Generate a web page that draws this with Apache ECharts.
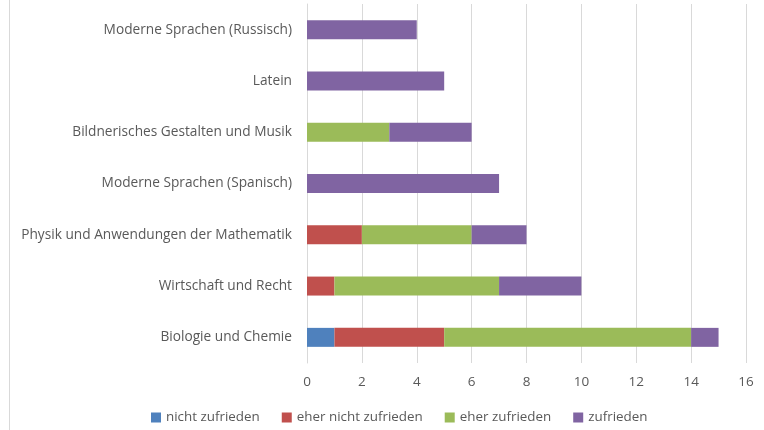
<!DOCTYPE html>
<html>
<head>
<meta charset="utf-8">
<script src="https://cdn.jsdelivr.net/npm/echarts@6/dist/echarts.min.js"></script>
<style>
html, body { margin: 0; padding: 0; background: #fff; }
#chart { width: 764px; height: 430px; }
</style>
</head>
<body>
<div id="chart"></div>
<script>
// Fächer, von unten nach oben
const faecher = ['Biologie und Chemie', 'Wirtschaft und Recht', 'Physik und Anwendungen der Mathematik',
	'Moderne Sprachen (Spanisch)', 'Bildnerisches Gestalten und Musik', 'Latein', 'Moderne Sprachen (Russisch)'];
const nichtZufrieden = [1, 0, 0, 0, 0, 0, 0];
const eherNichtZufrieden = [4, 1, 2, 0, 0, 0, 0];
const eherZufrieden = [9, 6, 4, 0, 3, 0, 0];
const zufrieden = [1, 3, 2, 7, 3, 5, 4];

const schrift = '"Open Sans", "Liberation Sans", sans-serif';
const grau = '#595959';

const myChart = echarts.init(document.getElementById('chart'));

function reihe(name, werte, farbe) {
	return {
		name: name,
		type: 'bar',
		stack: 'gesamt',
		barWidth: '37%',
		data: werte,
		itemStyle: { color: farbe },
		emphasis: { disabled: true }
	};
}

option = {
	backgroundColor: '#fff',
	animation: false,
	graphic: [{
		type: 'line',
		shape: { x1: 9.5, y1: 0, x2: 9.5, y2: 430 },
		style: { stroke: '#d9d9d9', lineWidth: 1 }
	}],
	grid: {
		left: 307,
		right: 18,
		top: 4,
		bottom: 67
	},
	legend: {
		bottom: 1,
		left: 146,
		itemWidth: 10,
		itemHeight: 10,
		itemGap: 22,
		itemTextGap: 3,
		icon: 'rect',
		textStyle: { color: grau, fontSize: 13.4, fontFamily: schrift },
		data: ['nicht zufrieden', 'eher nicht zufrieden', 'eher zufrieden', 'zufrieden']
	},
	xAxis: {
		type: 'value',
		min: 0,
		max: 16,
		interval: 2,
		axisLine: { show: false },
		axisTick: { show: false },
		axisLabel: { color: grau, fontSize: 13.5, fontFamily: schrift, margin: 12 },
		splitLine: { lineStyle: { color: '#d9d9d9', width: 1 } }
	},
	yAxis: {
		type: 'category',
		data: faecher,
		axisLine: { lineStyle: { color: '#d9d9d9' } },
		axisTick: { show: false },
		axisLabel: { color: grau, fontSize: 13.7, fontFamily: schrift, margin: 15 }
	},
	series: [
		reihe('nicht zufrieden', nichtZufrieden, '#4F81BD'),
		reihe('eher nicht zufrieden', eherNichtZufrieden, '#C0504D'),
		reihe('eher zufrieden', eherZufrieden, '#9BBB59'),
		reihe('zufrieden', zufrieden, '#8064A2')
	]
};

myChart.setOption(option);
</script>
</body>
</html>
